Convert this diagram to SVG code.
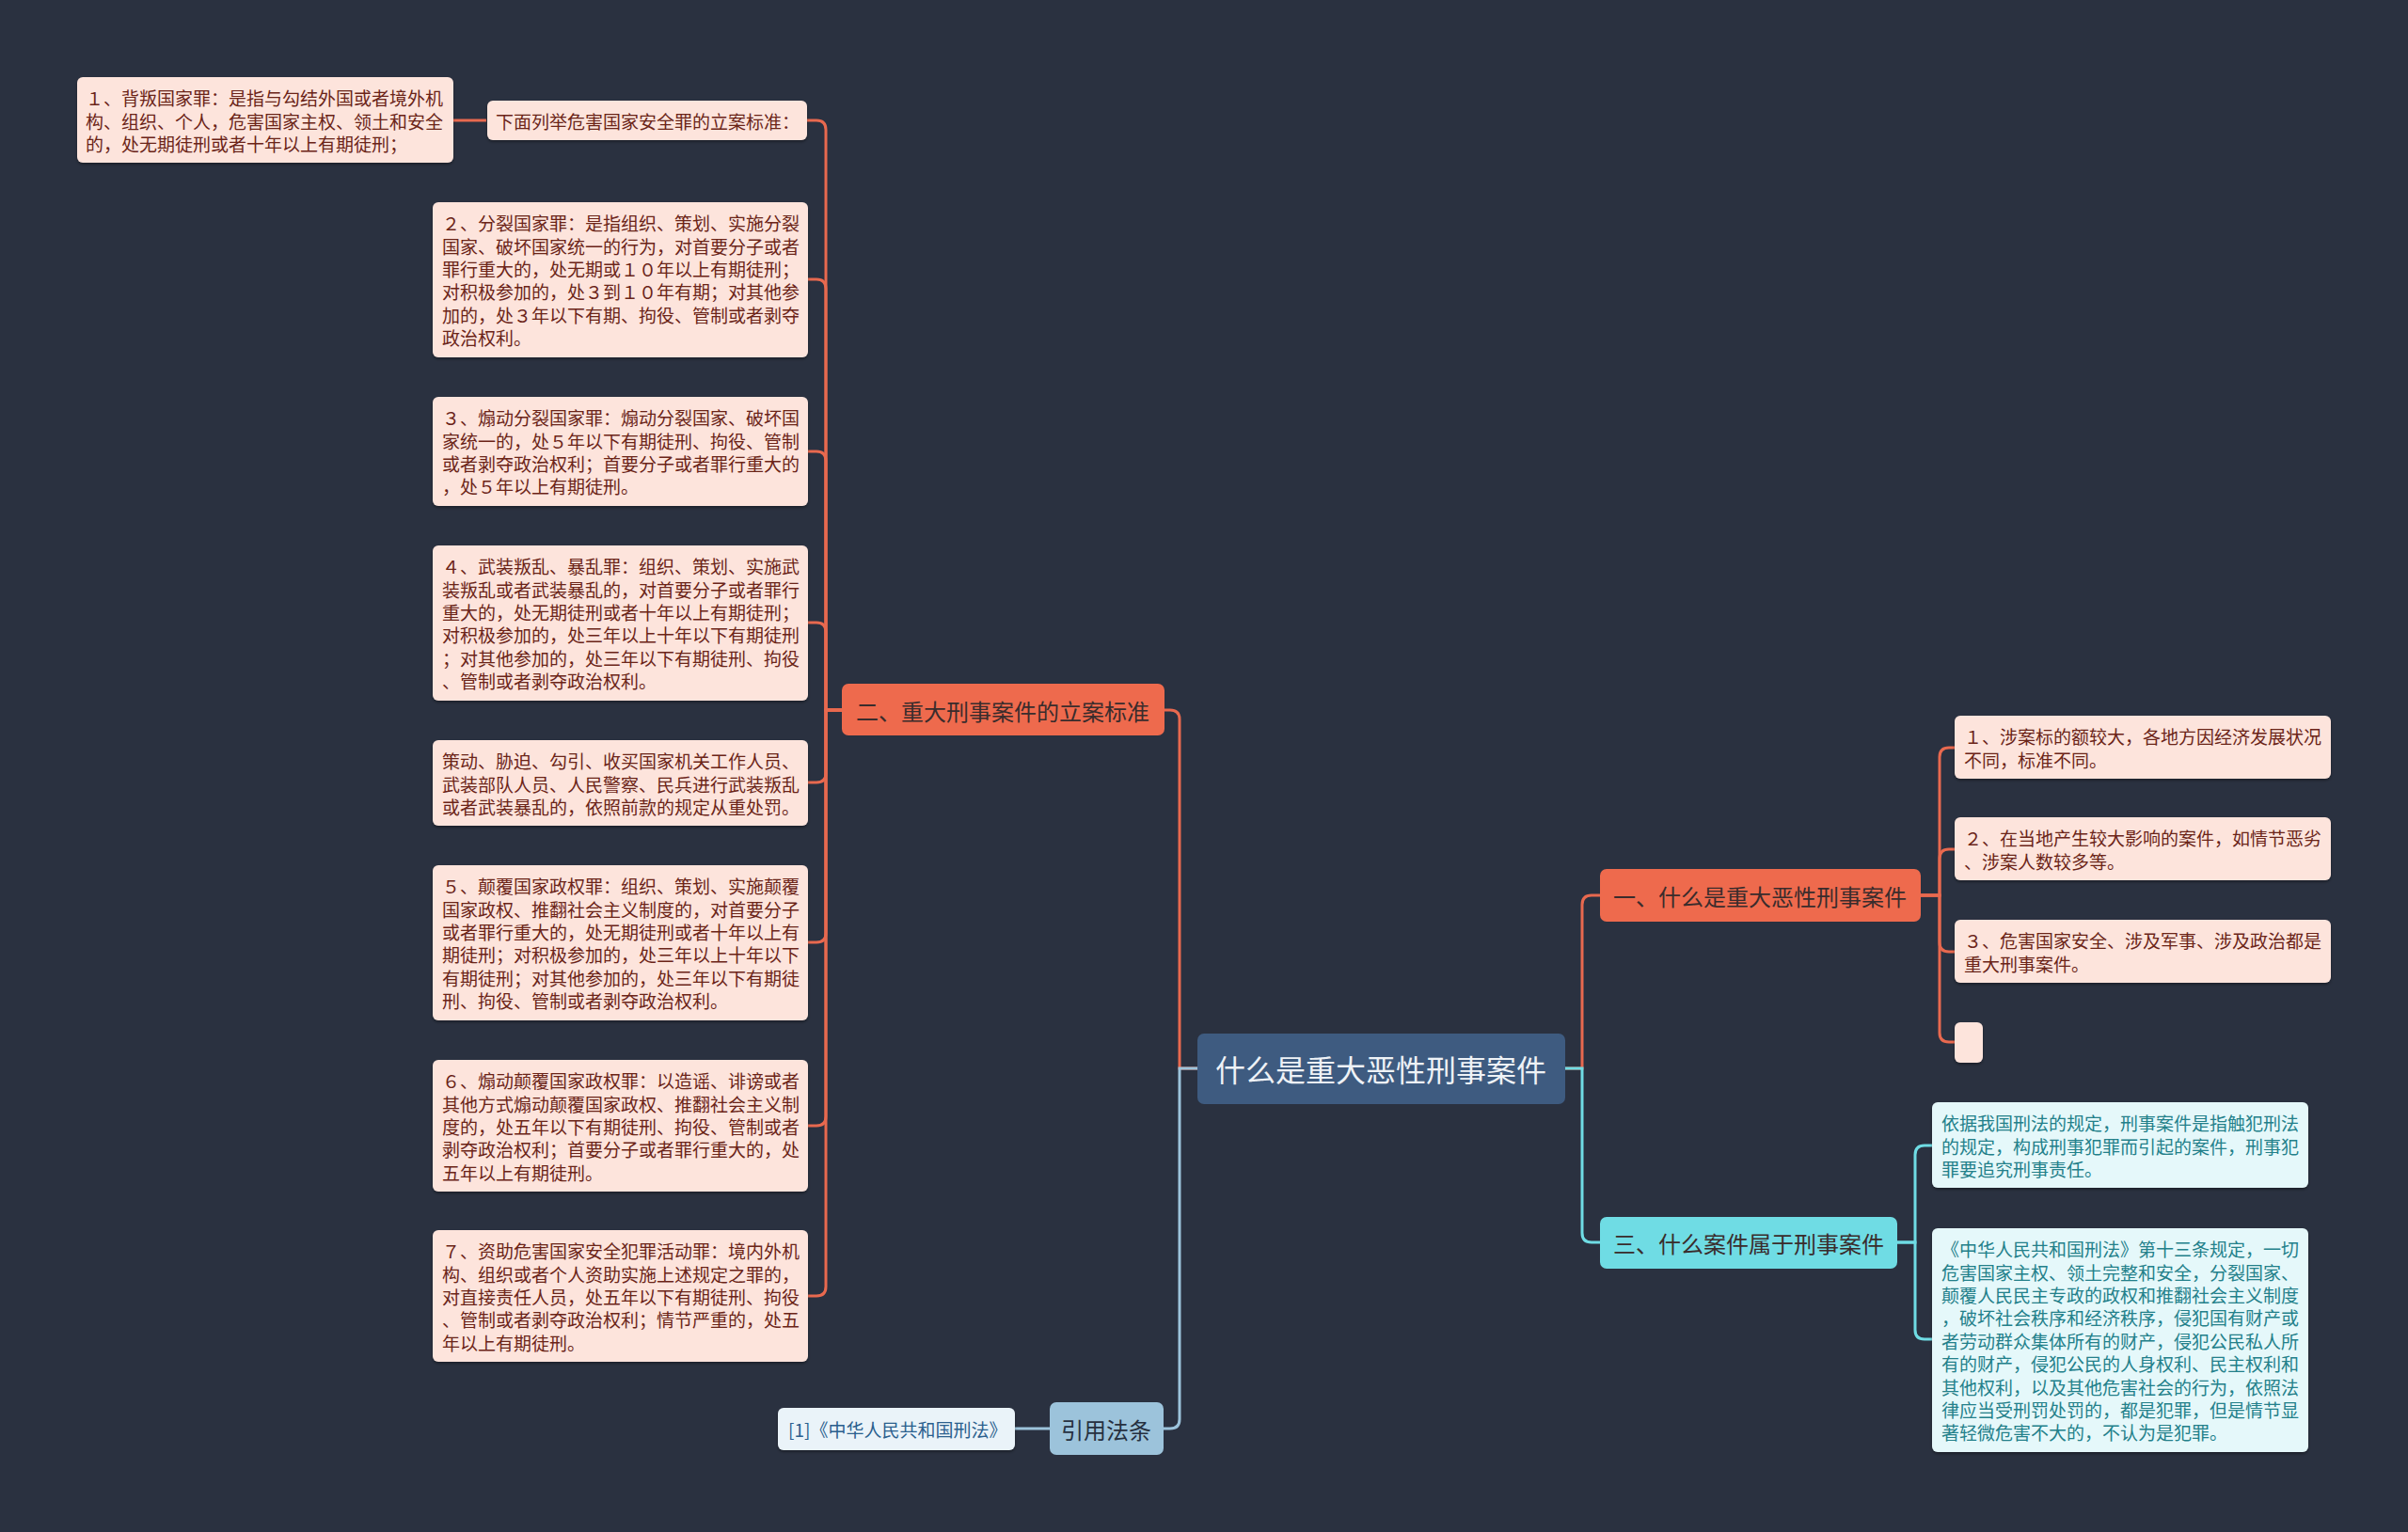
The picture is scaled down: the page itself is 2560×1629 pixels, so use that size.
<svg xmlns="http://www.w3.org/2000/svg" width="2560" height="1629" viewBox="0 0 2560 1629">
<defs>
<filter id="sh" x="-5%" y="-5%" width="110%" height="120%">
<feDropShadow dx="0" dy="2" stdDeviation="1.5" flood-color="#000" flood-opacity="0.35"/>
</filter>
</defs>
<style>
text{font-family:"Noto Sans CJK SC","Noto Sans",sans-serif;dominant-baseline:central}
.pk{fill:#fde4dc;filter:url(#sh)}
.pt{font-size:19px;fill:#6b2418}
.cy{fill:#e5f8fa;filter:url(#sh)}
.ct{font-size:19px;fill:#23808a}
.bl{fill:#eaf3f9;filter:url(#sh)}
.bt{font-size:19px;fill:#2b5f8e}
.lo{fill:none;stroke:#e8694f;stroke-width:3}
.lc{fill:none;stroke:#6fdce4;stroke-width:3}
.lb{fill:none;stroke:#9cc3db;stroke-width:3}
.br{font-size:24px;fill:#3a2c2c}
</style>
<rect width="2560" height="1629" fill="#2a3140"/>
<g id="connectors">
<path class="lo" d="M1273 1136 H1254 V765 Q1254 755 1244 755 H1238"/>
<path class="lb" d="M1273 1136 H1254 V1509 Q1254 1519 1244 1519 H1237"/>
<path class="lo" d="M1664 1136 H1682 V962 Q1682 952 1692 952 H1701"/>
<path class="lc" d="M1664 1136 H1682 V1311 Q1682 1321 1692 1321 H1701"/>
<path class="lo" d="M895 755 H878 V138 Q878 128 868 128 H858"/>
<path class="lo" d="M895 755 H878 V307 Q878 297 868 297 H859"/>
<path class="lo" d="M895 755 H878 V490 Q878 480 868 480 H859"/>
<path class="lo" d="M895 755 H878 V672 Q878 662 868 662 H859"/>
<path class="lo" d="M895 755 H878 V822 Q878 832 868 832 H859"/>
<path class="lo" d="M895 755 H878 V992 Q878 1002 868 1002 H859"/>
<path class="lo" d="M895 755 H878 V1187 Q878 1197 868 1197 H859"/>
<path class="lo" d="M895 755 H878 V1368 Q878 1378 868 1378 H859"/>
<path class="lo" d="M517 128 H482"/>
<path class="lo" d="M2042 952 H2062 V805 Q2062 795 2072 795 H2078"/>
<path class="lo" d="M2042 952 H2062 V913 Q2062 903 2072 903 H2078"/>
<path class="lo" d="M2042 952 H2062 V1002 Q2062 1012 2072 1012 H2078"/>
<path class="lo" d="M2042 952 H2062 V1098 Q2062 1108 2072 1108 H2078"/>
<path class="lc" d="M2017 1321 H2036 V1228 Q2036 1218 2046 1218 H2054"/>
<path class="lc" d="M2017 1321 H2036 V1414 Q2036 1424 2046 1424 H2054"/>
<path class="lb" d="M1116 1519 H1079"/>
</g>
<g id="center">
<rect x="1273" y="1099" width="391" height="75" rx="7" fill="#3e5b80"/>
<text x="1468" y="1136" font-size="32" fill="#eef2f6" text-anchor="middle">什么是重大恶性刑事案件</text>
</g>
<g id="branch2">
<rect x="895" y="727" width="343" height="55" rx="7" fill="#ee6a4d"/>
<text class="br" x="1066" y="755" text-anchor="middle">二、重大刑事案件的立案标准</text>
</g>
<g id="branch1">
<rect x="1701" y="924" width="341" height="56" rx="7" fill="#ee6a4d"/>
<text class="br" x="1871" y="952" text-anchor="middle">一、什么是重大恶性刑事案件</text>
</g>
<g id="branch3">
<rect x="1701" y="1294" width="316" height="55" rx="7" fill="#6fdce4"/>
<text class="br" x="1859" y="1321" text-anchor="middle" fill="#263040">三、什么案件属于刑事案件</text>
</g>
<g id="cite">
<rect x="1116" y="1491" width="121" height="56" rx="7" fill="#9cc3db"/>
<text x="1176" y="1519" font-size="24" fill="#263040" text-anchor="middle">引用法条</text>
</g>
<g id="cite-leaf">
<rect class="bl" x="827" y="1497" width="252" height="45" rx="6"/>
<text class="bt" x="838" y="1519">[1]《中华人民共和国刑法》</text>
</g>
<g id="intro">
<rect class="pk" x="518" y="107" width="340" height="42" rx="6"/>
<text class="pt" x="527" y="128">下面列举危害国家安全罪的立案标准：</text>
</g>
<g id="n1">
<rect class="pk" x="82" y="82" width="400" height="91" rx="6"/>
<text class="pt"><tspan x="91" y="103.2">１、背叛国家罪：是指与勾结外国或者境外机</tspan><tspan x="91" y="127.6">构、组织、个人，危害国家主权、领土和安全</tspan><tspan x="91" y="152">的，处无期徒刑或者十年以上有期徒刑；</tspan></text>
</g>
<g id="n2">
<rect class="pk" x="460" y="215" width="399" height="165" rx="6"/>
<text class="pt"><tspan x="470" y="236.2">２、分裂国家罪：是指组织、策划、实施分裂</tspan><tspan x="470" y="260.6">国家、破坏国家统一的行为，对首要分子或者</tspan><tspan x="470" y="285">罪行重大的，处无期或１０年以上有期徒刑；</tspan><tspan x="470" y="309.4">对积极参加的，处３到１０年有期；对其他参</tspan><tspan x="470" y="333.8">加的，处３年以下有期、拘役、管制或者剥夺</tspan><tspan x="470" y="358.2">政治权利。</tspan></text>
</g>
<g id="n3">
<rect class="pk" x="460" y="422" width="399" height="116" rx="6"/>
<text class="pt"><tspan x="470" y="443.2">３、煽动分裂国家罪：煽动分裂国家、破坏国</tspan><tspan x="470" y="467.6">家统一的，处５年以下有期徒刑、拘役、管制</tspan><tspan x="470" y="492">或者剥夺政治权利；首要分子或者罪行重大的</tspan><tspan x="470" y="516.4">，处５年以上有期徒刑。</tspan></text>
</g>
<g id="n4">
<rect class="pk" x="460" y="580" width="399" height="165" rx="6"/>
<text class="pt"><tspan x="470" y="601.2">４、武装叛乱、暴乱罪：组织、策划、实施武</tspan><tspan x="470" y="625.6">装叛乱或者武装暴乱的，对首要分子或者罪行</tspan><tspan x="470" y="650">重大的，处无期徒刑或者十年以上有期徒刑；</tspan><tspan x="470" y="674.4">对积极参加的，处三年以上十年以下有期徒刑</tspan><tspan x="470" y="698.8">；对其他参加的，处三年以下有期徒刑、拘役</tspan><tspan x="470" y="723.2">、管制或者剥夺政治权利。</tspan></text>
</g>
<g id="n4b">
<rect class="pk" x="460" y="787" width="399" height="91" rx="6"/>
<text class="pt"><tspan x="470" y="808.2">策动、胁迫、勾引、收买国家机关工作人员、</tspan><tspan x="470" y="832.6">武装部队人员、人民警察、民兵进行武装叛乱</tspan><tspan x="470" y="857">或者武装暴乱的，依照前款的规定从重处罚。</tspan></text>
</g>
<g id="n5">
<rect class="pk" x="460" y="920" width="399" height="165" rx="6"/>
<text class="pt"><tspan x="470" y="941.2">５、颠覆国家政权罪：组织、策划、实施颠覆</tspan><tspan x="470" y="965.6">国家政权、推翻社会主义制度的，对首要分子</tspan><tspan x="470" y="990">或者罪行重大的，处无期徒刑或者十年以上有</tspan><tspan x="470" y="1014.4">期徒刑；对积极参加的，处三年以上十年以下</tspan><tspan x="470" y="1038.8">有期徒刑；对其他参加的，处三年以下有期徒</tspan><tspan x="470" y="1063.2">刑、拘役、管制或者剥夺政治权利。</tspan></text>
</g>
<g id="n6">
<rect class="pk" x="460" y="1127" width="399" height="140" rx="6"/>
<text class="pt"><tspan x="470" y="1148.2">６、煽动颠覆国家政权罪：以造谣、诽谤或者</tspan><tspan x="470" y="1172.6">其他方式煽动颠覆国家政权、推翻社会主义制</tspan><tspan x="470" y="1197">度的，处五年以下有期徒刑、拘役、管制或者</tspan><tspan x="470" y="1221.4">剥夺政治权利；首要分子或者罪行重大的，处</tspan><tspan x="470" y="1245.8">五年以上有期徒刑。</tspan></text>
</g>
<g id="n7">
<rect class="pk" x="460" y="1308" width="399" height="140" rx="6"/>
<text class="pt"><tspan x="470" y="1329.2">７、资助危害国家安全犯罪活动罪：境内外机</tspan><tspan x="470" y="1353.6">构、组织或者个人资助实施上述规定之罪的，</tspan><tspan x="470" y="1378">对直接责任人员，处五年以下有期徒刑、拘役</tspan><tspan x="470" y="1402.4">、管制或者剥夺政治权利；情节严重的，处五</tspan><tspan x="470" y="1426.8">年以上有期徒刑。</tspan></text>
</g>
<g id="r1">
<rect class="pk" x="2078" y="761" width="400" height="67" rx="6"/>
<text class="pt"><tspan x="2088" y="782.2">１、涉案标的额较大，各地方因经济发展状况</tspan><tspan x="2088" y="806.6">不同，标准不同。</tspan></text>
</g>
<g id="r2">
<rect class="pk" x="2078" y="869" width="400" height="67" rx="6"/>
<text class="pt"><tspan x="2088" y="890.2">２、在当地产生较大影响的案件，如情节恶劣</tspan><tspan x="2088" y="914.6">、涉案人数较多等。</tspan></text>
</g>
<g id="r3">
<rect class="pk" x="2078" y="978" width="400" height="67" rx="6"/>
<text class="pt"><tspan x="2088" y="999.2">３、危害国家安全、涉及军事、涉及政治都是</tspan><tspan x="2088" y="1023.6">重大刑事案件。</tspan></text>
</g>
<g id="r4">
<rect class="pk" x="2078" y="1087" width="30" height="43" rx="6"/>
</g>
<g id="c1">
<rect class="cy" x="2054" y="1172" width="400" height="91" rx="6"/>
<text class="ct"><tspan x="2064" y="1193.2">依据我国刑法的规定，刑事案件是指触犯刑法</tspan><tspan x="2064" y="1217.6">的规定，构成刑事犯罪而引起的案件，刑事犯</tspan><tspan x="2064" y="1242">罪要追究刑事责任。</tspan></text>
</g>
<g id="c2">
<rect class="cy" x="2054" y="1306" width="400" height="238" rx="6"/>
<text class="ct"><tspan x="2064" y="1327.2">《中华人民共和国刑法》第十三条规定，一切</tspan><tspan x="2064" y="1351.6">危害国家主权、领土完整和安全，分裂国家、</tspan><tspan x="2064" y="1376">颠覆人民民主专政的政权和推翻社会主义制度</tspan><tspan x="2064" y="1400.4">，破坏社会秩序和经济秩序，侵犯国有财产或</tspan><tspan x="2064" y="1424.8">者劳动群众集体所有的财产，侵犯公民私人所</tspan><tspan x="2064" y="1449.2">有的财产，侵犯公民的人身权利、民主权利和</tspan><tspan x="2064" y="1473.6">其他权利，以及其他危害社会的行为，依照法</tspan><tspan x="2064" y="1498">律应当受刑罚处罚的，都是犯罪，但是情节显</tspan><tspan x="2064" y="1522.4">著轻微危害不大的，不认为是犯罪。</tspan></text>
</g>
</svg>
